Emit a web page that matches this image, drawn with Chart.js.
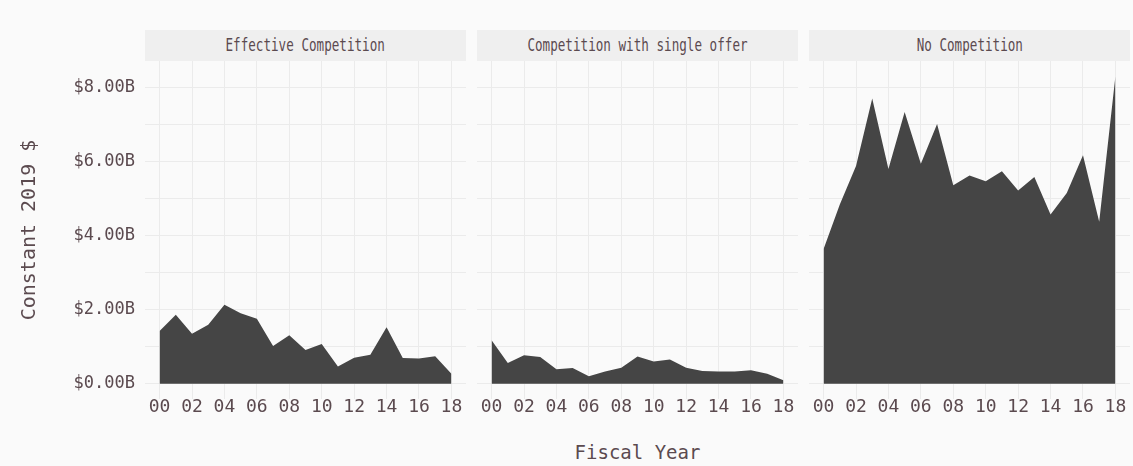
<!DOCTYPE html>
<html>
<head>
<meta charset="utf-8">
<script src="https://cdn.jsdelivr.net/npm/chart.js@4/dist/chart.umd.min.js"></script>
<style>
  html, body { margin: 0; padding: 0; background: #fafafa; }
  #page { position: relative; width: 1133px; height: 466px; overflow: hidden; font-family: "DejaVu Sans Mono", monospace; color: #5b4a4f; }
  .strip { position: absolute; top: 30px; height: 31px; width: 321px; background: #efefef; font-size: 13px; line-height: 31px; text-align: center; }
  .strip span { display: inline-block; transform: scale(0.97, 1.3); }
  .box { position: absolute; top: 61px; height: 380px; }
  #xTitle { position: absolute; top: 441px; left: 0; width: 1275px; text-align: center; font-size: 19px; }
</style>
</head>
<body>
<div id="page">
  <div class="strip" style="left:145px"><span>Effective Competition</span></div>
  <div class="strip" style="left:477px"><span>Competition with single offer</span></div>
  <div class="strip" style="left:809px"><span>No Competition</span></div>
  <div class="box" style="left:0px;width:466px"><canvas id="c1"></canvas></div>
  <div class="box" style="left:477px;width:321px"><canvas id="c2"></canvas></div>
  <div class="box" style="left:809px;width:321px"><canvas id="c3"></canvas></div>
  <div id="xTitle">Fiscal Year</div>
</div>
<script>
// Datos (miles de millones de dólares constantes 2019)
const years = [0, 1, 2, 3, 4, 5, 6, 7, 8, 9, 10, 11, 12, 13, 14, 15, 16, 17, 18];
const effective = [1.42, 1.86, 1.35, 1.59, 2.13, 1.90, 1.75, 1.02, 1.31, 0.91, 1.07, 0.46, 0.70, 0.78, 1.52, 0.69, 0.68, 0.74, 0.27];
const singleOffer = [1.17, 0.56, 0.77, 0.72, 0.39, 0.42, 0.20, 0.33, 0.43, 0.73, 0.60, 0.65, 0.43, 0.34, 0.33, 0.33, 0.36, 0.27, 0.09];
const noCompetition = [3.64, 4.84, 5.88, 7.70, 5.80, 7.34, 5.94, 7.01, 5.36, 5.62, 5.47, 5.74, 5.22, 5.58, 4.57, 5.15, 6.17, 4.37, 8.30];

const xTicks = [0, 2, 4, 6, 8, 10, 12, 14, 16, 18];
const xTickLabels = ['00', '02', '04', '06', '08', '10', '12', '14', '16', '18'];
const yGrid = [0, 1, 2, 3, 4, 5, 6, 7, 8];
const yTicks = [0, 2, 4, 6, 8];
const yTickLabels = ['$0.00B', '$2.00B', '$4.00B', '$6.00B', '$8.00B'];

const textColor = '#5b4a4f';
const gridColor = '#ebebeb';
const fillColor = '#454545';

// Crea un panel (faceta) con Chart.js
function makePanel(canvasId, values, showY) {
    const ctx = document.getElementById(canvasId).getContext('2d');
    return new Chart(ctx, {
        type: 'line',
        data: {
            datasets: [{
                data: years.map((y, i) => ({ x: y, y: values[i] })),
                backgroundColor: fillColor,
                borderWidth: 0,
                pointRadius: 0,
                tension: 0,
                fill: 'origin'
            }]
        },
        options: {
            responsive: true,
            maintainAspectRatio: false,
            animation: false,
            layout: { padding: 0 },
            plugins: { legend: { display: false }, tooltip: { enabled: false } },
            scales: {
                x: {
                    type: 'linear',
                    min: -0.9,
                    max: 18.9,
                    afterBuildTicks: s => { s.ticks = xTicks.map(v => ({ value: v })); },
                    afterFit: s => {
                        s.height = 42;
                        s.paddingLeft = 0;
                        s.paddingRight = 0;
                    },
                    grid: { color: gridColor, lineWidth: 1, drawTicks: false },
                    border: { display: false },
                    ticks: {
                        color: textColor,
                        padding: -1,
                        maxRotation: 0,
                        font: { family: 'DejaVu Sans Mono', size: 18, lineHeight: 1 },
                        callback: v => xTickLabels[xTicks.indexOf(v)]
                    }
                },
                y: {
                    min: -0.415,
                    max: 8.715,
                    afterBuildTicks: s => { s.ticks = yGrid.map(v => ({ value: v })); },
                    afterFit: s => {
                        s.width = showY ? 145 : 0;
                        // sin relleno extra arriba/abajo para que los paneles queden alineados
                        s.paddingTop = 0;
                        s.paddingBottom = 0;
                    },
                    grid: { color: gridColor, lineWidth: 1, drawTicks: false },
                    border: { display: false },
                    ticks: {
                        display: showY,
                        color: textColor,
                        padding: 10,
                        font: { family: 'DejaVu Sans Mono', size: 17 },
                        callback: v => {
                            const i = yTicks.indexOf(v);
                            return i >= 0 ? yTickLabels[i] : '';
                        }
                    },
                    title: {
                        display: showY,
                        text: 'Constant 2019 $',
                        color: textColor,
                        padding: { top: 18, bottom: 0 },
                        font: { family: 'DejaVu Sans Mono', size: 20 }
                    }
                }
            }
        }
    });
}

makePanel('c1', effective, true);
makePanel('c2', singleOffer, false);
makePanel('c3', noCompetition, false);
</script>
</body>
</html>
